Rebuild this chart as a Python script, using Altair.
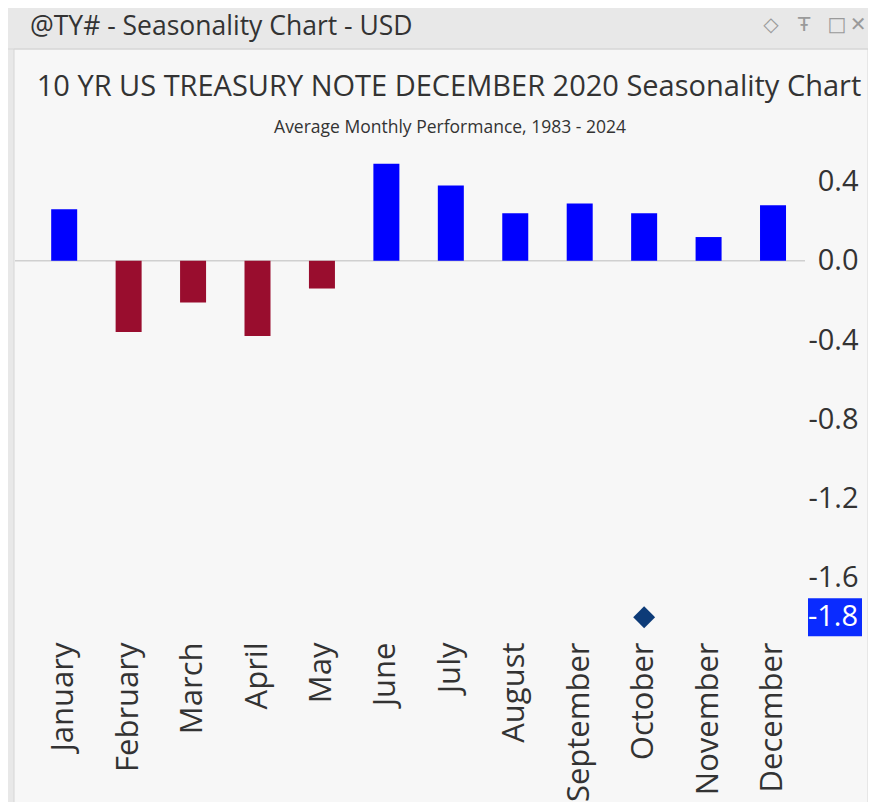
import altair as alt
import pandas as pd

# ---- data ----
months = ["January", "February", "March", "April", "May", "June",
          "July", "August", "September", "October", "November", "December"]
avg_perf = [0.26, -0.36, -0.21, -0.38, -0.14, 0.49,
            0.38, 0.24, 0.29, 0.24, 0.12, 0.28]
marker_month = ["October"]
marker_value = [-1.8]
y_ticks = [0.4, 0.0, -0.4, -0.8, -1.2, -1.6]

header_text = ["@TY# - Seasonality Chart - USD"]
title_text = ["10 YR US TREASURY NOTE DECEMBER 2020 Seasonality Chart"]
subtitle_text = ["Average Monthly Performance, 1983 - 2024"]
icon_text = ["◇", "Ŧ", "□", "✕"]
icon_pos = [756, 789, 822, 843]

# ---- layout ----
W, H = 790, 495
PAD = {"left": 7, "top": 134, "right": 63, "bottom": 165}
FONT = "Open Sans"
HYPHEN_FMT = "replace(format(datum.value, '.1f'), '\u2212', '-')"

bars_df = pd.DataFrame({"month": months, "value": avg_perf})
marker_df = pd.DataFrame({"month": marker_month, "value": marker_value})
one = pd.DataFrame({"k": [0]})

x_scale = alt.Scale(domain=months, paddingInner=0.5965, paddingOuter=0.428, align=0.656)
y_scale = alt.Scale(domain=[-1.9, 0.6], nice=False, zero=False)

x_enc = alt.X("month:N", scale=x_scale, sort=months,
              axis=alt.Axis(title=None, labelAngle=-90, labelFontSize=31, labelFont=FONT,
                            labelColor="#333333", ticks=False, domain=False, labelPadding=5,
                            zindex=2))
y_enc = alt.Y("value:Q", scale=y_scale,
              axis=alt.Axis(title=None, orient="right", values=y_ticks,
                            labelExpr=HYPHEN_FMT,
                            labelFontSize=29, labelFont=FONT, labelColor="#333333",
                            labelAlign="right", labelPadding=53, ticks=False,
                            domain=False, grid=False, zindex=2))

# decorations
panel = alt.Chart(one).mark_rect(fill="#f7f7f7", stroke="#d6d6d6", strokeWidth=1).encode(
    x=alt.value(-1), x2=alt.value(W + 63), y=alt.value(-93), y2=alt.value(H + 170))
header_line = alt.Chart(one).mark_rule(color="#d6d6d6").encode(
    x=alt.value(-7), x2=alt.value(W + 63), y=alt.value(-93))

header = alt.Chart(pd.DataFrame({"t": header_text})).mark_text(
    font=FONT, fontSize=26.5, color="#333333", align="left", baseline="alphabetic"
).encode(text="t:N", x=alt.value(15), y=alt.value(-107))

icons = alt.Chart(pd.DataFrame({"t": icon_text, "xp": icon_pos})).mark_text(
    font="DejaVu Sans", fontSize=20, color="#9a9a9a", align="center", baseline="middle"
).encode(text="t:N", x=alt.X("xp:Q", scale=None), y=alt.value(-117))

title = alt.Chart(pd.DataFrame({"t": title_text})).mark_text(
    font=FONT, fontSize=29, color="#333333", align="center", baseline="alphabetic"
).encode(text="t:N", x=alt.value(434), y=alt.value(-46))

subtitle = alt.Chart(pd.DataFrame({"t": subtitle_text})).mark_text(
    font=FONT, fontSize=17.5, color="#333333", align="center", baseline="alphabetic"
).encode(text="t:N", x=alt.value(435), y=alt.value(-9))

zero_rule = alt.Chart(one).mark_rule(color="#d0d0d0", strokeWidth=1.5).encode(
    y=alt.datum(0, scale=y_scale), x=alt.value(0), x2=alt.value(W))

bars = alt.Chart(bars_df).mark_bar().encode(
    x=x_enc, y=y_enc, y2=alt.datum(0),
    color=alt.condition(alt.datum.value > 0, alt.value("#0000ff"), alt.value("#990d2e")),
)

marker = alt.Chart(marker_df).mark_point(shape="diamond", filled=True, size=480,
                                         color="#0d3b78", opacity=1).encode(
    x=alt.X("month:N", scale=x_scale, sort=months), y=alt.Y("value:Q", scale=y_scale))

hl_box = alt.Chart(marker_df).mark_point(
    shape="M-1,-0.7037L1,-0.7037L1,0.7037L-1,0.7037Z", filled=True, size=2916,
    color="#0a2bff", opacity=1).encode(
    x=alt.value(820), y=alt.Y("value:Q", scale=y_scale))

hl_text = alt.Chart(marker_df).transform_calculate(
    lbl=HYPHEN_FMT
).mark_text(
    font=FONT, fontSize=29, color="white", align="right", baseline="middle").encode(
    text="lbl:N", x=alt.value(843), y=alt.Y("value:Q", scale=y_scale))

chart = alt.layer(panel, header_line, header, icons, title, subtitle, zero_rule,
                  bars, marker, hl_box, hl_text).properties(
    width=W, height=H, padding=PAD,
    autosize=alt.AutoSizeParams(type="none"),
    background="#e8e8e8",
).configure_view(stroke=None, fill=None)

chart.save("out.html", embed_options={"renderer": "svg", "actions": False})
